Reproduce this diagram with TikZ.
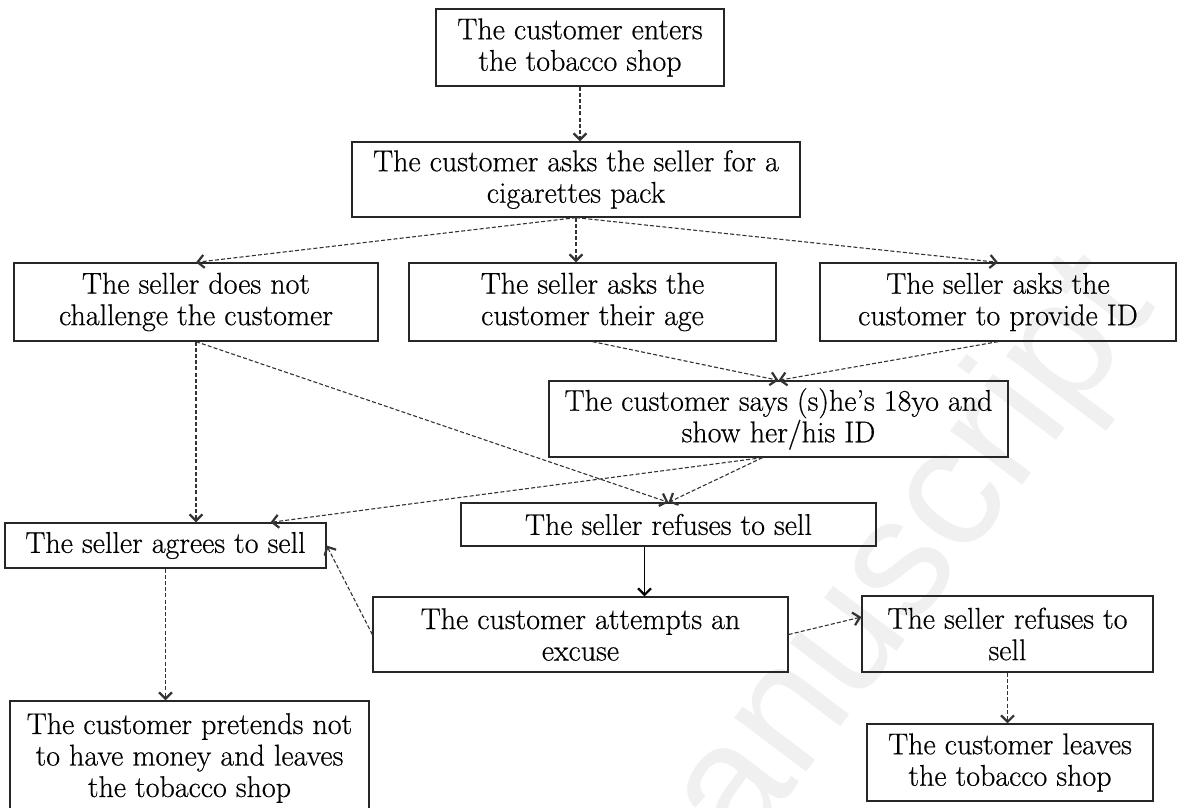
\documentclass[tikz,border=0pt]{standalone}
\usepackage{fontspec}
\newfontfamily\wmfont{Liberation Sans}
\newfontfamily\boxfont{Latin Modern Roman}[Ligatures=TeX,FakeBold=0.5]
\usetikzlibrary{arrows.meta}
\begin{document}
\begin{tikzpicture}[x=1pt,y=-1pt,font=\boxfont\fontsize{30}{31.5}\selectfont,
	box/.style={draw=black!85,line width=1.3pt,align=center,inner sep=0pt},
	flow/.style={draw=black!80,line width=1.1pt,dash pattern=on 4pt off 2.2pt,
		-{Straight Barb[length=6.5pt,width=13pt,line width=2.2pt]}},
	firm/.style={draw=black,line width=1.4pt,
		-{Straight Barb[length=6.5pt,width=13pt,line width=2.2pt]}}]
	\useasboundingbox (0,0) rectangle (1178,808);
	\clip (0,0) rectangle (1178,808);
	\node[text=black!6,font=\wmfont\fontsize{170}{170}\selectfont,rotate=53,anchor=base west] (wm) at (740,860) {anuscript};
	\node[box,minimum width=288pt,minimum height=77pt] (enter) at (580,47.5) {The customer enters\\the tobacco shop};
	\node[box,minimum width=448pt,minimum height=75pt] (ask) at (576,179.5) {The customer asks the seller for a\\cigarettes pack};
	\node[box,minimum width=364pt,minimum height=78pt] (nochal) at (196,302) {The seller does not\\challenge the customer};
	\node[box,minimum width=367pt,minimum height=78pt] (askage) at (592.5,302) {The seller asks the\\customer their age};
	\node[box,minimum width=356pt,minimum height=78pt] (askid) at (998,302) {The seller asks the\\customer to provide ID};
	\node[box,minimum width=459pt,minimum height=76pt] (says) at (778.5,419) {The customer says (s)he’s 18yo and\\show her/his ID};
	\node[box,minimum width=415pt,minimum height=43pt] (refuse) at (668.5,524.5) {The seller refuses to sell};
	\node[box,minimum width=321pt,minimum height=45pt] (agree) at (165.5,545.5) {The seller agrees to sell};
	\node[box,minimum width=415pt,minimum height=75pt] (excuse) at (580.5,634.5) {The customer attempts an\\excuse};
	\node[box,minimum width=291pt,minimum height=76pt] (refuse2) at (1007.5,634) {The seller refuses to\\sell};
	\node[box,minimum width=286pt,minimum height=77pt] (leaves) at (1010,762.5) {The customer leaves\\the tobacco shop};
	\node[box,minimum width=359pt,minimum height=114pt] (pretend) at (189.5,758) {The customer pretends not\\to have money and leaves\\the tobacco shop};
	\path (enter.south |- ask.north) coordinate (ask-n)
		(ask.south |- askage.north) coordinate (askage-n)
		(nochal.south |- agree.north) coordinate (agree-n)
		([xshift=-16pt]says.south) coordinate (says-s)
		([xshift=105pt]agree.north) coordinate (agree-ne)
		([xshift=-24pt]refuse.south) coordinate (refuse-s)
		(refuse-s |- excuse.north) coordinate (excuse-n)
		([yshift=17pt]refuse2.west) coordinate (refuse2-w)
		(refuse2.south |- leaves.north) coordinate (leaves-n)
		(agree.south |- pretend.north) coordinate (pretend-n);
	\foreach \a/\b in {enter.south/ask-n, ask.south/nochal.north, ask.south/askage-n,
		ask.south/askid.north, nochal.south/agree-n, nochal.south/refuse.north,
		askage.south/says.north, askid.south/says.north, says-s/refuse.north,
		says-s/agree-ne, excuse.west/agree.east, excuse.east/refuse2-w,
		refuse2.south/leaves-n, agree.south/pretend-n}{
		\draw[flow] (\a) -- (\b);
	}
	\draw[firm] (refuse-s) -- (excuse-n);
\end{tikzpicture}
\end{document}
